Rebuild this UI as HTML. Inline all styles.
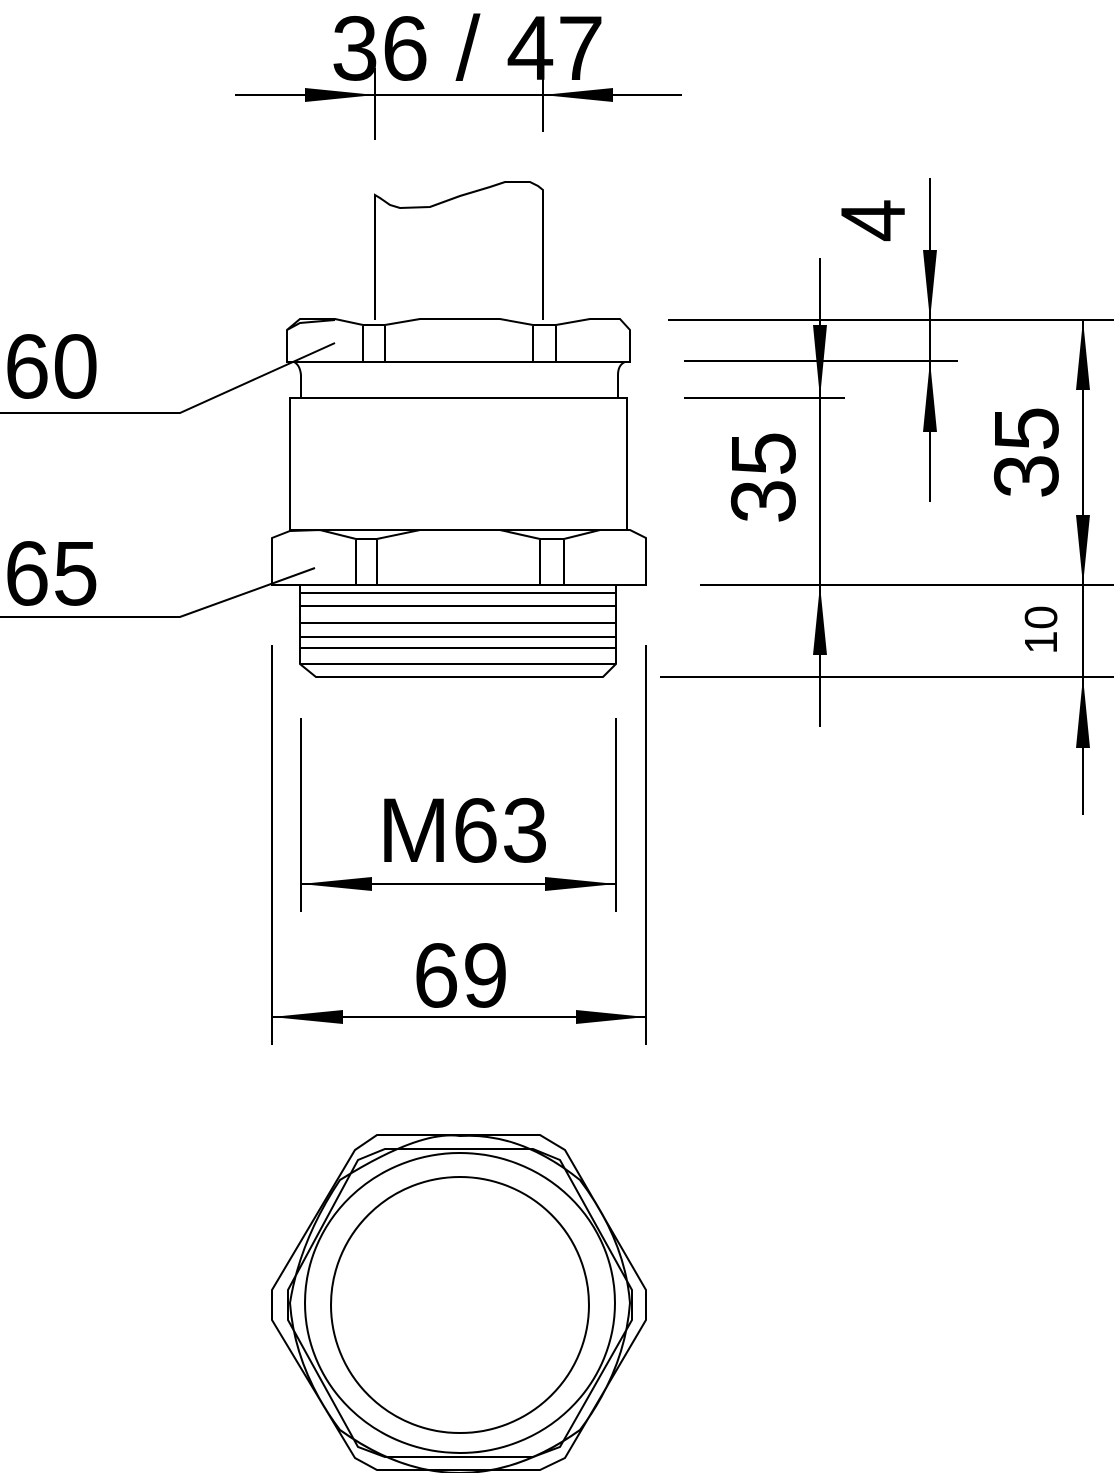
<!DOCTYPE html>
<html><head><meta charset="utf-8"><style>html,body{margin:0;padding:0;background:#fff}svg{display:block}</style></head>
<body>
<svg width="1114" height="1473" viewBox="0 0 1114 1473" xmlns="http://www.w3.org/2000/svg">
<g fill="none" stroke="#000" stroke-width="2">
<line x1="235" y1="95" x2="682" y2="95"/>
<line x1="375" y1="68" x2="375" y2="140"/>
<line x1="543" y1="68" x2="543" y2="132"/>
<path d="M375,320 L375,195 L380,198 L390,205 L400,208 L430,207 L460,196 L490,187 L505,182 L530,182 L538,186 L543,190 L543,320"/>
<path d="M300,319 L335,319 L363,325 L385,325 L420,319 L500,319 L533,325 L556,325 L590,319 L620,319 L630,330 L630,362 L287,362 L287,330 Z"/>
<path d="M287,330 L300,323 L335,320"/>
<line x1="363" y1="326" x2="363" y2="362"/><line x1="385" y1="326" x2="385" y2="362"/>
<line x1="533" y1="326" x2="533" y2="362"/><line x1="556" y1="326" x2="556" y2="362"/>
<path d="M294,362 Q300,365 301,375 L301,398"/>
<path d="M625,362 Q618,365 618,375 L618,398"/>
<rect x="290" y="398" width="337" height="132"/>
<path d="M272,538 L290,531 L320,530 L356,539 L377,539 L420,530 L500,530 L540,539 L564,539 L600,530 L630,530 L646,538 L646,585 L272,585 Z"/>
<line x1="356" y1="540" x2="356" y2="585"/><line x1="377" y1="540" x2="377" y2="585"/>
<line x1="540" y1="540" x2="540" y2="585"/><line x1="564" y1="540" x2="564" y2="585"/>
<path d="M300,585 L300,664 L316,677 L603,677 L616,664 L616,585"/>
<line x1="300" y1="593" x2="616" y2="593"/><line x1="300" y1="606" x2="616" y2="606"/>
<line x1="300" y1="623" x2="616" y2="623"/><line x1="300" y1="637" x2="616" y2="637"/>
<line x1="300" y1="648" x2="616" y2="648"/><line x1="300" y1="664" x2="616" y2="664"/>
<polyline points="0,413 180,413 335,343"/>
<polyline points="0,617 180,617 315,568"/>
<line x1="668" y1="320" x2="1114" y2="320"/>
<line x1="684" y1="361" x2="958" y2="361"/>
<line x1="684" y1="398" x2="845" y2="398"/>
<line x1="700" y1="585" x2="1114" y2="585"/>
<line x1="660" y1="677" x2="1114" y2="677"/>
<line x1="820" y1="258" x2="820" y2="727"/>
<line x1="930" y1="178" x2="930" y2="502"/>
<line x1="1083" y1="320" x2="1083" y2="815"/>
<line x1="301" y1="718" x2="301" y2="912"/><line x1="616" y1="718" x2="616" y2="912"/>
<line x1="301" y1="884" x2="616" y2="884"/>
<line x1="272" y1="645" x2="272" y2="1045"/><line x1="646" y1="645" x2="646" y2="1045"/>
<line x1="272" y1="1017" x2="646" y2="1017"/>
<polygon points="377,1135 540,1135 565,1150 646,1290 646,1320 565,1458 540,1470 377,1470 355,1458 272,1320 272,1290 355,1150"/>
<path d="M385,1149 L533,1149 L560,1160 L632,1290 L632,1320 L560,1447 L533,1457 L385,1457 L358,1447 L288,1320 L288,1290 L358,1160 Z"/>
<path d="M290,1303 Q300,1240 340,1180 Q420,1130 460,1136 Q520,1132 580,1180 Q625,1240 630,1303 Q625,1370 580,1430 Q520,1473 460,1473 Q400,1473 340,1430 Q295,1370 290,1303 Z"/>
<ellipse cx="460" cy="1303" rx="155" ry="150"/>
<ellipse cx="460" cy="1305" rx="129" ry="128"/>
</g>
<g fill="#000">
<polygon points="305,88 375,95 305,102"/>
<polygon points="613,88 543,95 613,102"/>
<polygon points="813,325 827,325 820,398"/>
<polygon points="813,655 827,655 820,585"/>
<polygon points="923,250 937,250 930,320"/>
<polygon points="923,432 937,432 930,361"/>
<polygon points="1076,390 1090,390 1083,320"/>
<polygon points="1076,515 1090,515 1083,585"/>
<polygon points="1076,748 1090,748 1083,677"/>
<polygon points="301,884 372,877 372,891"/>
<polygon points="616,884 545,877 545,891"/>
<polygon points="272,1017 343,1010 343,1024"/>
<polygon points="646,1017 576,1010 576,1024"/>
</g>
<g fill="#000" font-family="'Liberation Sans Narrow','Liberation Sans',sans-serif" font-size="92">
<text x="330" y="80" textLength="276" lengthAdjust="spacingAndGlyphs">36 / 47</text>
<text x="3" y="398" textLength="97" lengthAdjust="spacingAndGlyphs">60</text>
<text x="3" y="605" textLength="97" lengthAdjust="spacingAndGlyphs">65</text>
<text x="377" y="862" textLength="173" lengthAdjust="spacingAndGlyphs">M63</text>
<text x="412" y="1007" textLength="98" lengthAdjust="spacingAndGlyphs">69</text>
<text transform="translate(795,525) rotate(-90)" textLength="95" lengthAdjust="spacingAndGlyphs">35</text>
<text transform="translate(905,243) rotate(-90)" textLength="45" lengthAdjust="spacingAndGlyphs">4</text>
<text transform="translate(1058,500) rotate(-90)" textLength="95" lengthAdjust="spacingAndGlyphs">35</text>
<text transform="translate(1057,655) rotate(-90)" font-size="46" textLength="50" lengthAdjust="spacingAndGlyphs">10</text>
</g>
</svg>
</body></html>
